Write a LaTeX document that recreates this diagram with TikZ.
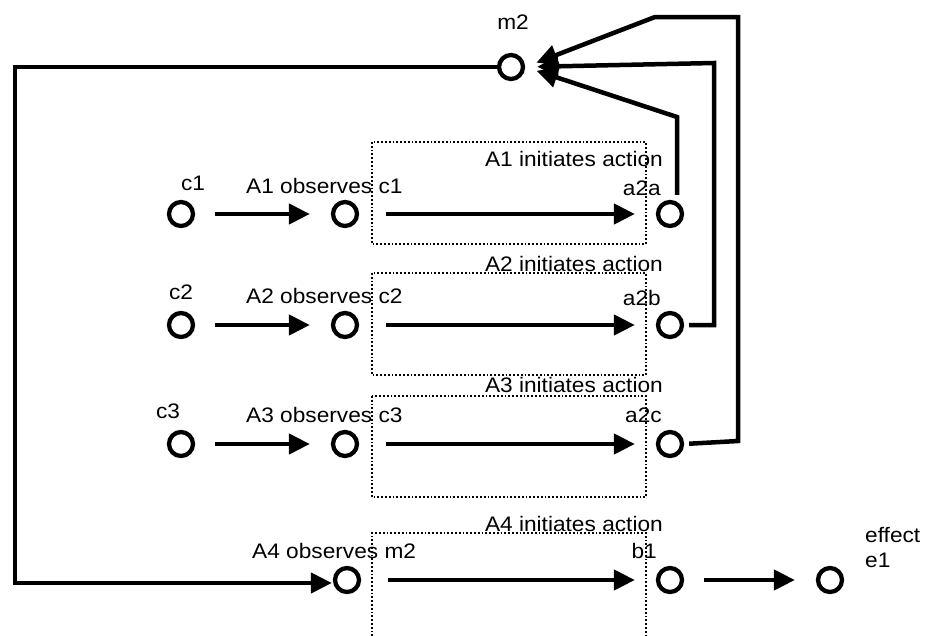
\documentclass[tikz,border=0pt]{standalone}
\usepackage{fontspec}
\setmainfont{Liberation Sans}
\newfontfamily\labfont{Liberation Sans}[FakeStretch=1.08]
\usetikzlibrary{arrows.meta}
\begin{document}
\begin{tikzpicture}[x=1pt,y=-1pt,
  st/.style={circle,draw,line width=4.3pt,minimum size=24pt,inner sep=0pt},
  conn/.style={line width=4.5pt},
  tip/.style={-{Triangle[length=21pt,width=20pt]}},
  rowarr/.style={conn,tip,shorten <=20pt,shorten >=21pt},
  longarr/.style={conn,tip,shorten <=27pt,shorten >=21pt},
  fb/.style={conn,tip,shorten <=5pt,shorten >=12pt},
  box/.style={draw,dotted,line width=1.8pt},
  lbl/.style={font=\labfont\fontsize{21}{24}\selectfont,inner sep=0pt}]
\useasboundingbox (0,0) rectangle (943,635);
% dotted boxes
\draw[box] (372,142) rectangle (646,244);
\draw[box] (372,273) rectangle (646,375);
\draw[box] (372,396) rectangle (646,497);
\draw[box] (372,640) -- (372,533) -- (646,533) -- (646,640);
% states
\node[st] (m2) at (511,67) {};
\node[st] (c1) at (181,214) {};
\node[st] (o1) at (345,214) {};
\node[st] (a2a) at (670,214) {};
\node[st] (c2) at (181,325) {};
\node[st] (o2) at (345,325) {};
\node[st] (a2b) at (670,325) {};
\node[st] (c3) at (181,444) {};
\node[st] (o3) at (345,444) {};
\node[st] (a2c) at (670,444) {};
\node[st] (o4) at (347,580) {};
\node[st] (b1) at (670,580) {};
\node[st] (e1) at (830,580) {};
% labels
\node[lbl] (lm2) at (513,22) {m2};
\node[lbl] (lc1) at (193,183) {c1};
\node[lbl] (lc2) at (181,292) {c2};
\node[lbl] (lc3) at (168,411) {c3};
\node[lbl,anchor=west] (lo1) at (246,186) {A1 observes c1};
\node[lbl,anchor=west] (lo2) at (246,296) {A2 observes c2};
\node[lbl,anchor=west] (lo3) at (246,415) {A3 observes c3};
\node[lbl,anchor=west] (lo4) at (252,551) {A4 observes m2};
\node[lbl,anchor=east] (li1) at (663,159) {A1 initiates action};
\node[lbl,anchor=east] (li2) at (663,264) {A2 initiates action};
\node[lbl,anchor=east] (li3) at (663,385) {A3 initiates action};
\node[lbl,anchor=east] (li4) at (663,524) {A4 initiates action};
\node[lbl,anchor=east] (la) at (661,188) {a2a};
\node[lbl,anchor=east] (lb) at (661,298) {a2b};
\node[lbl,anchor=east] (lcc) at (662,415) {a2c};
\node[lbl,anchor=east] (lb1) at (657,551) {b1};
\node[lbl,anchor=west] (leff) at (865,535) {effect};
\node[lbl,anchor=west] (le1) at (865,560) {e1};
% row arrows
\draw[rowarr] (c1) -- (o1);
\draw[longarr] (o1) -- (a2a);
\draw[rowarr] (c2) -- (o2);
\draw[longarr] (o2) -- (a2b);
\draw[rowarr] (c3) -- (o3);
\draw[longarr] (o3) -- (a2c);
\draw[longarr] (o4) -- (b1);
\draw[rowarr] (b1) -- (e1);
% feedback to m2
\coordinate (k1) at (677,117);
\coordinate (k2a) at (714,325);
\coordinate (k2b) at (714,63);
\coordinate (k3a) at (738,441);
\coordinate (k3b) at (738,17);
\coordinate (k3c) at (655,17);
\draw[fb] ([xshift=7pt]a2a.north) -- (k1) -- (m2.east);
\draw[fb] (a2b.east) -- (k2a) -- (k2b) -- (m2.east);
\draw[fb] (a2c.east) -- (k3a) -- (k3b) -- (k3c) -- (m2.east);
% m2 to A4 observes
\coordinate (j1) at (15,67);
\coordinate (j2) at (15,583);
\draw[conn,tip,shorten >=1pt] (m2.west) -- (j1) -- (j2) -- (o4.west |- j2);
\end{tikzpicture}
\end{document}
